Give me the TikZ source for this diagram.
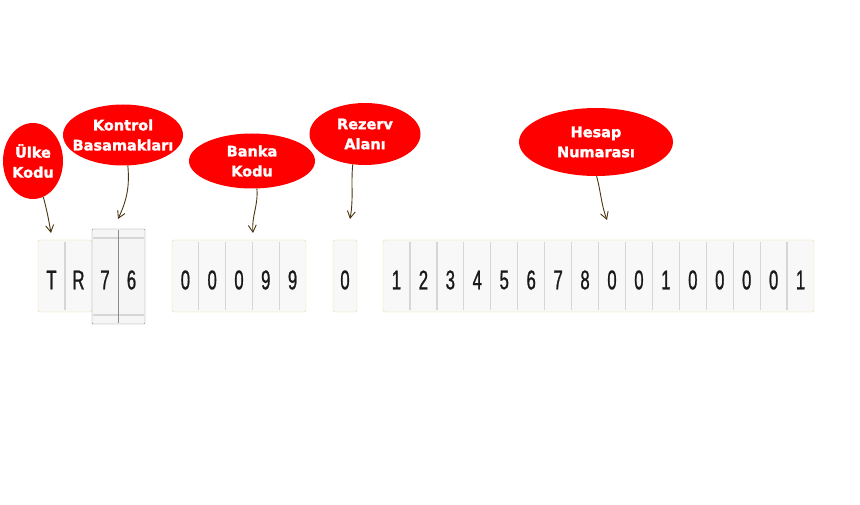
\documentclass[tikz,border=0pt]{standalone}
\usepackage{fontspec}
\newfontfamily\digitfont[FakeStretch=0.62,FakeBold=0.8]{Liberation Sans}
\newfontfamily\balloonfont[FakeBold=1.6]{DejaVu Sans Bold}
\usetikzlibrary{arrows.meta,shapes.geometric}
\definecolor{balloonred}{HTML}{FF0000}
\definecolor{cellfill}{HTML}{F8F8F8}
\definecolor{cellrim}{HTML}{ECDCA4}
\definecolor{cellsep}{HTML}{D6D6D6}
\definecolor{arrowbrown}{HTML}{4A3510}

\tikzset{
  balloon/.style={ellipse,fill=balloonred,inner sep=0pt},
  balloontext/.style={text=white,align=center,font=\balloonfont\fontsize{14.5}{20}\selectfont},
  digit/.style={inner sep=0pt,text=black!90,font=\digitfont\fontsize{27}{27}\selectfont},
  pointer/.style={draw=arrowbrown,line width=0.9pt,-{Straight Barb[length=7pt,width=8pt]}},
  group/.style={draw=cellrim,fill=cellfill,rounded corners=2pt},
  sep/.style={draw=cellsep,line width=1.3pt}
}

\begin{document}
\begin{tikzpicture}[x=1pt,y=-1pt]
  \useasboundingbox[fill=white] (0,0) rectangle (860,505);
  % balloons
  \node[balloon,minimum width=60pt,minimum height=76pt] (ulke) at (33,161) {};
  \node[balloontext] (ulketext) at (ulke) {Ülke\\Kodu};
  \node[balloon,minimum width=120pt,minimum height=61pt] (kontrol) at (123,135) {};
  \node[balloontext] (kontroltext) at (kontrol) {Kontrol\\Basamakları};
  \node[balloon,minimum width=126pt,minimum height=55pt] (banka) at (252,161) {};
  \node[balloontext] (bankatext) at (banka) {Banka\\Kodu};
  \node[balloon,minimum width=111pt,minimum height=62pt] (rezerv) at (365,134) {};
  \node[balloontext] (rezervtext) at (rezerv) {Rezerv\\Alanı};
  \node[balloon,minimum width=154pt,minimum height=68pt] (hesap) at (596,142) {};
  \node[balloontext] (hesaptext) at (hesap) {Hesap\\Numarası};
  % arrow ends
  \coordinate (ulkeend) at (51,233);
  \coordinate (kontrolend) at (118,219);
  \coordinate (bankaend) at (253,233);
  \coordinate (rezervend) at (350,219);
  \coordinate (hesapend) at (607,220);
  \draw[pointer] (ulke.286) to[out=-75,in=100] (ulkeend);
  \draw[pointer] (kontrol.279) to[out=-85,in=65] (kontrolend);
  \draw[pointer] (banka.280) to[out=-85,in=95] (bankaend);
  \draw[pointer] (rezerv.248) to[out=-95,in=80] (rezervend);
  \draw[pointer] (hesap.271) to[out=-75,in=110] (hesapend);
  % country code
  \draw[group] (38,240) rectangle (92,312);
  \draw[sep] (65,242) -- (65,310);
  \node[digit] (c1) at (51.5,280) {T};
  \node[digit] (c2) at (78.5,280) {R};
  % check digits
  \draw[draw=black!45,fill=black!4,rounded corners=1pt] (92,229) rectangle (145,324);
  \draw[sep] (93,238) -- (144,238);
  \draw[sep] (93,315) -- (144,315);
  \draw[draw=black!45,line width=1pt] (118.5,230) -- (118.5,323);
  \node[digit] (k1) at (105,280) {7};
  \node[digit] (k2) at (131.5,280) {6};
  % bank code
  \draw[group] (172,240) rectangle (306,312);
  \foreach \k in {1,...,4}
    \draw[sep] (172+26.8*\k,242) -- (172+26.8*\k,310);
  \foreach \d [count=\i] in {0,0,0,9,9}
    \node[digit] (b\i) at (172+26.8*\i-13.4,280) {\d};
  % reserve
  \draw[group] (333,240) rectangle (357,312);
  \node[digit] (r1) at (345,280) {0};
  % account number
  \draw[group] (383,240) rectangle (814,312);
  \foreach \k in {1,...,15}
    \draw[sep] (383+26.94*\k,242) -- (383+26.94*\k,310);
  \foreach \d [count=\i] in {1,2,3,4,5,6,7,8,0,0,1,0,0,0,0,1}
    \node[digit] (a\i) at (383+26.94*\i-13.47,280) {\d};
\end{tikzpicture}
\end{document}
